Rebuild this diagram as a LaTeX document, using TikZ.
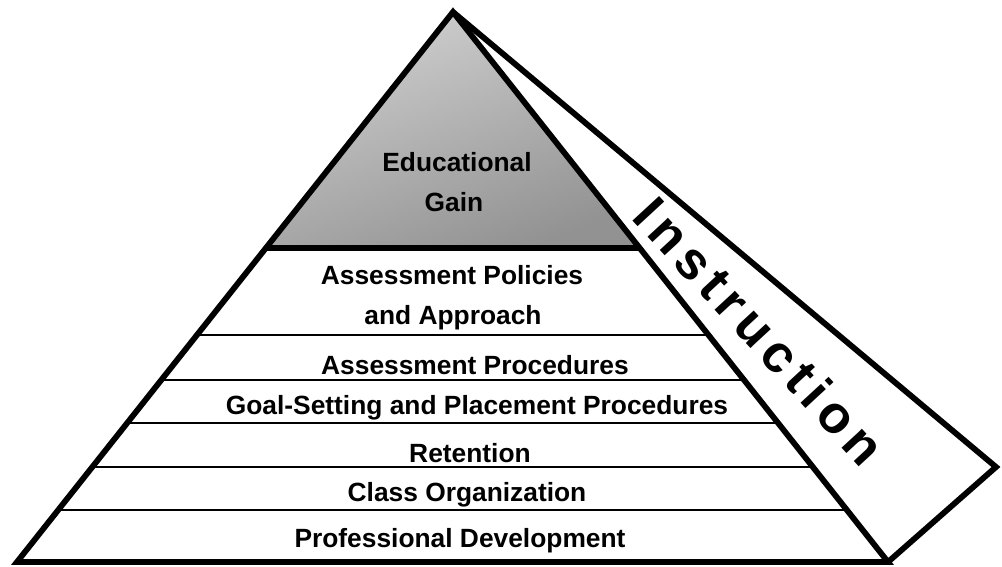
\documentclass[tikz,border=0pt]{standalone}
\usepackage{fontspec}
\setmainfont{Liberation Sans}
\newfontfamily\spacedfont[LetterSpace=13]{Liberation Sans}
\usetikzlibrary{calc,positioning}
\definecolor{gaintop}{RGB}{208,208,208}
\definecolor{gainbot}{RGB}{146,146,146}

\begin{document}
\begin{tikzpicture}[x=0.02cm, y=-0.02cm,
  outline/.style={line width=3.3pt, line join=miter},
  divider/.style={line width=1.1pt},
  level/.style={anchor=base, font=\fontsize{15}{18}\selectfont\bfseries},
  side/.style={font=\fontsize{30}{34}\spacedfont\bfseries, rotate=-47.3}]
  \useasboundingbox (0,0) rectangle (1002,567);

  \coordinate (A) at (453,12);
  \coordinate (L) at (17,562);
  \coordinate (R) at (888,562);
  \coordinate (F) at (996,467);

  % shaded top
  \shade[top color=gaintop, bottom color=gainbot, shading angle=20]
    (A) -- ($(A)!0.429!(L)$) -- ($(A)!0.429!(R)$) -- cycle;
  \draw[outline] ($(A)!0.429!(L)$) -- ($(A)!0.429!(R)$);

  % layers
  \foreach \t in {0.587,0.669,0.747,0.827,0.905}
    \draw[divider] ($(A)!\t!(L)$) -- ($(A)!\t!(R)$);

  \draw[outline] (A) -- (L) -- (R) -- cycle;
  \draw[outline] (A) -- (F) -- (R);

  \node[level] (edu1) at (457,172) {Educational};
  \node[level] (edu2) at (454,212) {Gain};
  \node[level] (pol1) at (452,285) {Assessment Policies};
  \node[level] (pol2) at (453,325) {and Approach};
  \node[level] (proc) at (475,375) {Assessment Procedures};
  \node[level] (goal) at (477,415) {Goal-Setting and Placement Procedures};
  \node[level] (ret)  at (470,463) {Retention};
  \node[level] (org)  at (467,502) {Class Organization};
  \node[level] (dev)  at (460,548) {Professional Development};

  \node[side] (instr) at (760,331) {Instruction};
\end{tikzpicture}
\end{document}
